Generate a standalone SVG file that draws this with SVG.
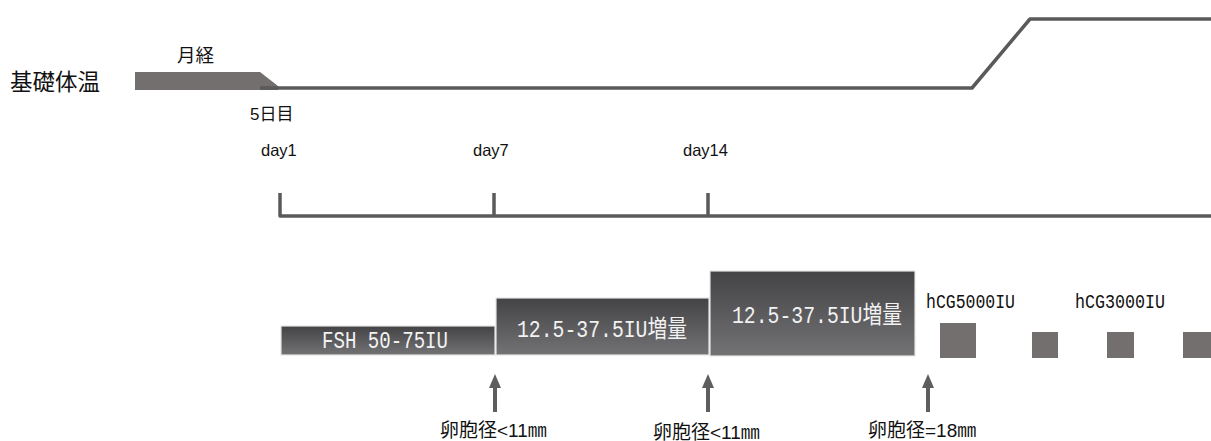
<svg xmlns="http://www.w3.org/2000/svg" width="1211" height="441" viewBox="0 0 1211 441">
<style>
.lbl{font-family:"Liberation Sans","Noto Sans CJK JP",sans-serif;fill:#111}
.cjk{font-family:"Noto Sans CJK JP",sans-serif;fill:#111}
.bar{stroke:#e4e4e4;stroke-width:1.2;fill:url(#g)}
.bt{font-family:"Liberation Mono","Noto Sans CJK JP",monospace;fill:#f2f2f2}
.ht{font-family:"Liberation Mono","Noto Sans CJK JP",monospace;fill:#111}
.sq{fill:#736f6e}
.ln{fill:none;stroke:#5a5a5a;stroke-linejoin:round}
.ar{stroke:#5e5e5e;stroke-width:4}
.ah{fill:#5e5e5e}
</style>
<defs>
<linearGradient id="g" x1="0" y1="0" x2="0" y2="1">
<stop offset="0" stop-color="#434345"/>
<stop offset="1" stop-color="#737376"/>
</linearGradient>
</defs>
<g id="temperature">
<text class="cjk" x="10" y="90" font-size="22.5">基礎体温</text>
<text class="cjk" x="177" y="62" font-size="18.5">月経</text>
<polygon points="135,72 260,72 278,86 278,90 135,90" fill="#736f6e"/>
<path class="ln" d="M260,88 H972 L1030,19 H1211" stroke-width="3.5"/>
<text class="lbl" x="250" y="120" font-size="17">5日目</text>
</g>
<g id="timeline">
<text class="lbl" x="261" y="156" font-size="16.5">day1</text>
<text class="lbl" x="473" y="156" font-size="16.5">day7</text>
<text class="lbl" x="683" y="156" font-size="16.5">day14</text>
<path class="ln" d="M280,193 V216 H1211 M494,193 V216 M708,193 V216" stroke-width="3.5"/>
</g>
<g id="bar1">
<rect class="bar" x="281" y="326" width="214" height="29"/>
<text class="bt" x="322" y="348" font-size="23" textLength="126" lengthAdjust="spacingAndGlyphs">FSH 50-75IU</text>
</g>
<g id="bar2">
<rect class="bar" x="496" y="298" width="213" height="57"/>
<text class="bt" x="517" y="337" font-size="24" textLength="170" lengthAdjust="spacingAndGlyphs">12.5-37.5IU増量</text>
</g>
<g id="bar3">
<rect class="bar" x="710" y="271" width="205" height="85"/>
<text class="bt" x="732" y="323" font-size="24" textLength="170" lengthAdjust="spacingAndGlyphs">12.5-37.5IU増量</text>
</g>
<g id="hcg">
<text class="ht" x="926" y="308" font-size="20" textLength="89" lengthAdjust="spacingAndGlyphs">hCG5000IU</text>
<text class="ht" x="1075" y="308" font-size="20" textLength="90" lengthAdjust="spacingAndGlyphs">hCG3000IU</text>
<rect class="sq" x="940" y="323" width="36" height="35"/>
<rect class="sq" x="1032" y="332" width="26" height="26"/>
<rect class="sq" x="1107" y="332" width="27" height="26"/>
<rect class="sq" x="1183" y="332" width="28" height="26"/>
</g>
<g id="connectors">
<line class="ar" x1="495" y1="386" x2="495" y2="412"/>
<polygon class="ah" points="495,374 489,388 501,388"/>
<line class="ar" x1="708" y1="386" x2="708" y2="412"/>
<polygon class="ah" points="708,374 702,388 714,388"/>
<line class="ar" x1="928" y1="386" x2="928" y2="412"/>
<polygon class="ah" points="928,374 922,388 934,388"/>
</g>
<g id="labels">
<text class="lbl" x="440" y="437" font-size="19">卵胞径&lt;11㎜</text>
<text class="lbl" x="653" y="439" font-size="19">卵胞径&lt;11㎜</text>
<text class="lbl" x="868" y="437" font-size="19">卵胞径=18㎜</text>
</g>
</svg>
